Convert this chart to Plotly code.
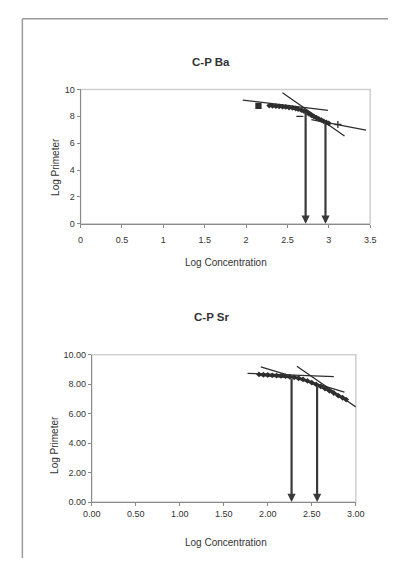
import plotly.graph_objects as go

W, H = 397, 563

# ---------------- Data: C-P Ba ----------------
ba_x = [2.28, 2.32, 2.36, 2.40, 2.44, 2.48, 2.52, 2.56, 2.60, 2.63, 2.67, 2.70,
        2.73, 2.76, 2.79, 2.82, 2.85, 2.88, 2.91, 2.94, 2.97, 3.00]
ba_y = [8.80, 8.78, 8.76, 8.74, 8.72, 8.70, 8.66, 8.63, 8.58, 8.54, 8.47, 8.40,
        8.30, 8.18, 8.08, 7.98, 7.90, 7.80, 7.72, 7.62, 7.55, 7.48]
ba_sq_x, ba_sq_y = [2.15], [8.78]
ba_dash_x, ba_dash_y = [2.65], [8.00]
ba_plus_x, ba_plus_y = [3.11], [7.39]
ba_fit1_x, ba_fit1_y = [1.96, 2.99], [9.21, 8.44]
ba_fit2_x, ba_fit2_y = [2.44, 3.19], [9.76, 6.54]
ba_fit3_x, ba_fit3_y = [2.79, 3.45], [7.75, 6.98]
ba_arrow_x = [2.72, 2.96]
ba_arrow_top = [8.40, 7.55]
ba_xticks = [0, 0.5, 1, 1.5, 2, 2.5, 3, 3.5]
ba_yticks = [0, 2, 4, 6, 8, 10]

# ---------------- Data: C-P Sr ----------------
sr_x = [1.90, 1.95, 2.00, 2.05, 2.10, 2.15, 2.20, 2.25, 2.30, 2.35, 2.40, 2.45,
        2.50, 2.55, 2.60, 2.65, 2.70, 2.75, 2.80, 2.85, 2.89]
sr_y = [8.66, 8.64, 8.62, 8.60, 8.58, 8.56, 8.54, 8.50, 8.46, 8.40, 8.32, 8.22,
        8.10, 7.98, 7.85, 7.70, 7.55, 7.40, 7.22, 7.08, 6.95]
sr_fit1_x, sr_fit1_y = [1.77, 2.75], [8.73, 8.51]
sr_fit2_x, sr_fit2_y = [1.92, 2.87], [9.18, 7.45]
sr_fit3_x, sr_fit3_y = [2.33, 3.00], [9.22, 6.45]
sr_arrow_x = [2.27, 2.56]
sr_arrow_top = [8.45, 7.90]
sr_xticks = [0, 0.5, 1.0, 1.5, 2.0, 2.5, 3.0]
sr_yticks = [0, 2, 4, 6, 8, 10]

FONT = "Liberation Sans, Arial, sans-serif"
TXT = "#333333"
DARK = "#2e2e2e"

fig = go.Figure()

def add_chart(xa, ya, px, py, extras, fits):
    for fx, fy in fits:
        fig.add_trace(go.Scatter(x=fx, y=fy, mode="lines", xaxis=xa, yaxis=ya,
                                 line=dict(color=DARK, width=1.3), showlegend=False))
    fig.add_trace(go.Scatter(x=px, y=py, mode="lines+markers", xaxis=xa, yaxis=ya,
                             line=dict(color="#3a3a3a", width=3),
                             marker=dict(symbol="diamond", size=4.5, color=DARK),
                             showlegend=False))
    for ex, ey, sym in extras:
        fig.add_trace(go.Scatter(x=ex, y=ey, mode="markers", xaxis=xa, yaxis=ya,
                                 marker=dict(symbol=sym, size=5, color=DARK,
                                             line=dict(color=DARK, width=1.3)),
                                 showlegend=False))

add_chart("x", "y", ba_x, ba_y,
          [(ba_sq_x, ba_sq_y, "square"), (ba_dash_x, ba_dash_y, "line-ew"),
           (ba_plus_x, ba_plus_y, "cross-thin")],
          [(ba_fit1_x, ba_fit1_y), (ba_fit2_x, ba_fit2_y), (ba_fit3_x, ba_fit3_y)])
add_chart("x2", "y2", sr_x, sr_y, [],
          [(sr_fit1_x, sr_fit1_y), (sr_fit2_x, sr_fit2_y), (sr_fit3_x, sr_fit3_y)])

annotations = []
for ax_x, ax_top in zip(ba_arrow_x, ba_arrow_top):
    annotations.append(dict(x=ax_x, y=0, ax=ax_x, ay=ax_top, xref="x", yref="y",
                            axref="x", ayref="y", text="", showarrow=True,
                            arrowhead=2, arrowsize=0.75, arrowwidth=2.2,
                            arrowcolor="#3a3a3a"))
for ax_x, ax_top in zip(sr_arrow_x, sr_arrow_top):
    annotations.append(dict(x=ax_x, y=0, ax=ax_x, ay=ax_top, xref="x2", yref="y2",
                            axref="x2", ayref="y2", text="", showarrow=True,
                            arrowhead=2, arrowsize=0.75, arrowwidth=2.2,
                            arrowcolor="#3a3a3a"))

def paper_txt(x, y, text, size, bold=False, angle=0):
    return dict(x=x / W, y=1 - y / H, xref="paper", yref="paper", text=text,
                showarrow=False, textangle=angle, xanchor="center", yanchor="middle",
                font=dict(family=FONT, size=size, color=TXT,
                          weight="bold" if bold else "normal"))

annotations += [
    paper_txt(212, 58, "C-P Ba", 11.5, bold=True),
    paper_txt(227, 262, "Log Concentration", 10),
    paper_txt(48, 165, "Log Primeter", 10, angle=-90),
    paper_txt(212, 318, "C-P Sr", 11.5, bold=True),
    paper_txt(227, 547, "Log Concentration", 10),
    paper_txt(47, 448, "Log Primeter", 10, angle=-90),
]

axis_common = dict(showgrid=False, zeroline=False, showline=True, linecolor="#8a8a8a",
                   linewidth=1, ticks="outside", ticklen=3, tickcolor="#8a8a8a",
                   tickfont=dict(family=FONT, size=9, color=TXT), fixedrange=True)

fig.update_layout(
    width=W, height=H, margin=dict(l=0, r=0, t=0, b=0),
    paper_bgcolor="white", plot_bgcolor="white",
    xaxis=dict(domain=[75 / W, 378.3 / W], range=[0, 3.5], tickvals=ba_xticks,
               anchor="y", ticklabelstandoff=4, **axis_common),
    yaxis=dict(domain=[1 - 222.7 / H, 1 - 86 / H], range=[0, 10], tickvals=ba_yticks,
               anchor="x", **axis_common),
    xaxis2=dict(domain=[86.7 / W, 363.3 / W], range=[0, 3], tickvals=sr_xticks,
                tickformat=".2f", anchor="y2", **axis_common),
    yaxis2=dict(domain=[1 - 506 / H, 1 - 356 / H], range=[0, 10], tickvals=sr_yticks,
                tickformat=".2f", anchor="x2", **axis_common),
    annotations=annotations,
    shapes=[
        dict(type="rect", xref="x domain", yref="y domain", x0=0, x1=1, y0=0, y1=1,
             line=dict(color="#cfcfcf", width=1.5), layer="below"),
        dict(type="rect", xref="x2 domain", yref="y2 domain", x0=0, x1=1, y0=0, y1=1,
             line=dict(color="#cfcfcf", width=1.5), layer="below"),
        dict(type="line", xref="paper", yref="paper", x0=14 / W, x1=1,
             y0=1 - 14 / H, y1=1 - 14 / H, line=dict(color="#9a9a9a", width=1.5)),
        dict(type="line", xref="paper", yref="paper", x0=14 / W, x1=14 / W,
             y0=0, y1=1 - 14 / H, line=dict(color="#9a9a9a", width=1.5)),
    ],
)

fig.write_html("out.html")
